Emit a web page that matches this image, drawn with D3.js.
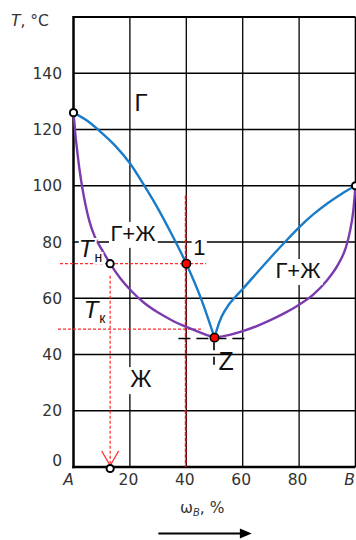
<!DOCTYPE html>
<html>
<head>
<meta charset="utf-8">
<script src="https://cdn.jsdelivr.net/npm/d3@7"></script>
<style>
  html, body { margin: 0; padding: 0; background: #fff; }
  svg { display: block; }
</style>
</head>
<body>
<svg id="chart" width="356" height="540"></svg>
<script>
// Phase diagram of a binary A–B system with a minimum-boiling azeotrope (Z)

// Axis ticks
const tempTicks = [0, 20, 40, 60, 80, 100, 120, 140];
const tempMax = 160;
const compTicks = [0, 20, 40, 60, 80, 100];
const compLabels = ["A", "20", "40", "60", "80", "B"];

// Dew (vapour) curve, [ω_B %, T °C]
const vaporLeft  = [[0, 126], [5, 123], [10, 118.8], [15, 114], [20, 108], [25, 100.2], [30, 91.8], [35, 82.4], [40, 72.3], [45, 60.5], [50, 46]];
const vaporRight = [[50, 46], [51, 49.4], [52.5, 53.4], [55, 57.6], [57.5, 60.6], [60, 63.3], [65, 69], [70, 74.6], [75, 80], [80, 85.2], [85, 89.8], [90, 93.7], [95, 97.1], [100, 100]];

// Boiling (liquid) curve, [ω_B %, T °C]
const liquidLeft  = [[0, 126], [0.6, 119], [1.3, 112.5], [2.1, 106], [3, 100], [4.2, 93.5], [5.6, 87.5], [7.5, 82], [10, 77.4], [13, 72.3],
                     [16.5, 67.2], [20.6, 62.5], [25, 58.4], [30, 54.9], [35, 52.1], [40, 49.8], [45, 47.8], [50, 46]];
const liquidRight = [[50, 46], [55, 46.9], [60, 48.3], [65, 50.1], [70, 52.3], [75, 54.8], [80, 57.7], [85, 61.3], [90, 66.5],
                     [94, 72.3], [96.5, 77.8], [98, 83.6], [99.2, 91], [100, 100]];

// Boiling points of the pure components
const pureComponents = [[0, 126], [100, 100]];
// Mixture of composition 1: start of boiling (Tн) and end of boiling (Tк)
const point1 = [40, 72.3];
const pointN = [13, 72.3];
const tempK = 49;
const pointZ = [50, 46];

// Region and point captions, anchored in data units
const captions = [
  { text: "Г",   at: [23.9, 126.6], size: 24, box: false },
  { text: "Г+Ж", at: [21.1, 80.4],  size: 22, box: true },
  { text: "1",   at: [44.6, 75.4],  size: 22, box: true },
  { text: "Г+Ж", at: [79.6, 67.2],  size: 22, box: true },
  { text: "Ж",   at: [23.9, 28.4],  size: 23, box: true },
  { text: "Z",   at: [54.1, 34.5],  size: 25, box: false }
];
const tempCaptions = [
  { sub: "н", at: [1.9, 74.8] },
  { sub: "к", at: [3.6, 52.9] }
];

const FONT = "'DejaVu Sans', sans-serif";
const LABEL_FONT = "'Liberation Sans', Arial, sans-serif";

const svg = d3.select("#chart");
const x = d3.scaleLinear().domain([0, 100]).range([73.5, 355.5]);
const y = d3.scaleLinear().domain([0, tempMax]).range([467, 17]);

// Grid
const grid = svg.append("g").attr("stroke", "#000").attr("stroke-width", 1.3);
grid.selectAll("line.h").data(tempTicks.slice(1)).join("line")
  .attr("class", "h")
  .attr("x1", x(0)).attr("x2", x(100))
  .attr("y1", d => y(d)).attr("y2", d => y(d));
grid.selectAll("line.v").data(compTicks.slice(1, -1)).join("line")
  .attr("class", "v")
  .attr("x1", d => x(d)).attr("x2", d => x(d))
  .attr("y1", y(0)).attr("y2", y(tempMax));

// Frame
svg.append("line").attr("x1", x(0)).attr("x2", x(100)).attr("y1", y(tempMax)).attr("y2", y(tempMax))
  .attr("stroke", "#000").attr("stroke-width", 2);
svg.append("line").attr("x1", x(100)).attr("x2", x(100)).attr("y1", y(0)).attr("y2", y(tempMax))
  .attr("stroke", "#000").attr("stroke-width", 1.6);
svg.append("line").attr("x1", x(0)).attr("x2", x(0)).attr("y1", y(0) + 1.2).attr("y2", y(tempMax) - 1)
  .attr("stroke", "#000").attr("stroke-width", 2.5);
svg.append("line").attr("x1", x(0) - 1.2).attr("x2", x(100)).attr("y1", y(0)).attr("y2", y(0))
  .attr("stroke", "#000").attr("stroke-width", 2.5);

// Y tick labels
svg.append("g").selectAll("text").data(tempTicks).join("text")
  .attr("x", 62)
  .attr("y", d => y(d) + (d === 0 ? -1 : 5.5))
  .attr("text-anchor", "end")
  .attr("font-family", FONT).attr("font-size", 15.5).attr("fill", "#333")
  .text(d => d);

// X tick labels (end labels name the pure components)
const last = compTicks.length - 1;
svg.append("g").selectAll("text").data(compTicks).join("text")
  .attr("x", (d, i) => i === last ? 355 : x(d) + (i === 0 ? -5 : -1.5))
  .attr("y", y(0) + 18)
  .attr("text-anchor", (d, i) => i === last ? "end" : "middle")
  .attr("font-family", FONT).attr("font-size", 15.5).attr("fill", "#333")
  .attr("font-style", (d, i) => (i === 0 || i === last) ? "italic" : "normal")
  .text((d, i) => compLabels[i]);

// Axis titles
const tTitle = svg.append("text").attr("x", 11).attr("y", 26)
  .attr("font-family", FONT).attr("font-size", 15.5).attr("fill", "#333");
tTitle.append("tspan").attr("font-style", "italic").text("T");
tTitle.append("tspan").text(", °C");

const wTitle = svg.append("text").attr("x", 180).attr("y", 513)
  .attr("font-family", FONT).attr("font-size", 15.5).attr("fill", "#333");
wTitle.append("tspan").text("ω");
wTitle.append("tspan").attr("font-style", "italic").attr("font-size", 10).attr("dy", 3).text("B");
wTitle.append("tspan").attr("dy", -3).text(", %");

// Direction arrow under the composition axis
svg.append("line")
  .attr("x1", x(30.1)).attr("x2", x(59.5))
  .attr("y1", 533.5).attr("y2", 533.5)
  .attr("stroke", "#000").attr("stroke-width", 2);
svg.append("path")
  .attr("d", d3.line()([[x(59), 528.5], [x(63.2), 533.5], [x(59), 538.5]]) + "Z")
  .attr("fill", "#000");

// Guide lines for mixture 1
const guides = svg.append("g").attr("fill", "none");
guides.append("line")
  .attr("x1", 60).attr("x2", x(47))
  .attr("y1", y(pointN[1])).attr("y2", y(pointN[1]))
  .attr("stroke", "#ff2a2a").attr("stroke-width", 1.2).attr("stroke-dasharray", "3,2");
guides.append("line")
  .attr("x1", 58).attr("x2", x(46))
  .attr("y1", y(tempK)).attr("y2", y(tempK))
  .attr("stroke", "#ff2a2a").attr("stroke-width", 1.2).attr("stroke-dasharray", "3,2");
guides.append("line")
  .attr("x1", x(pointN[0])).attr("x2", x(pointN[0]))
  .attr("y1", y(pointN[1]) + 12).attr("y2", y(0) - 2)
  .attr("stroke", "#ff2a2a").attr("stroke-width", 1.2).attr("stroke-dasharray", "3,2");
guides.append("path")
  .attr("d", d3.line()([[x(pointN[0]) - 8.5, y(0) - 16], [x(pointN[0]), y(0) - 1.5], [x(pointN[0]) + 8.5, y(0) - 16]]))
  .attr("stroke", "#ff2a2a").attr("stroke-width", 1.3);
guides.append("line")
  .attr("x1", x(point1[0]) - 0.6).attr("x2", x(point1[0]) - 0.6)
  .attr("y1", y(96.5)).attr("y2", y(0))
  .attr("stroke", "#e8141c").attr("stroke-width", 1.8).attr("stroke-dasharray", "4,1.5");

// Azeotrope guide (black dashes)
svg.append("line")
  .attr("x1", x(37.2)).attr("x2", x(62.6))
  .attr("y1", y(pointZ[1]) + 0.8).attr("y2", y(pointZ[1]) + 0.8)
  .attr("stroke", "#000").attr("stroke-width", 1.6).attr("stroke-dasharray", "12,6");
svg.append("line")
  .attr("x1", x(pointZ[0]) - 0.5).attr("x2", x(pointZ[0]) - 0.5)
  .attr("y1", y(pointZ[1]) + 4.5).attr("y2", y(pointZ[1]) + 29)
  .attr("stroke", "#000").attr("stroke-width", 1.6).attr("stroke-dasharray", "8,6.5");

// Curves
const curve = d3.line()
  .x(d => x(d[0])).y(d => y(d[1]))
  .curve(d3.curveMonotoneX);
[[vaporLeft, "#1a7cc8"], [vaporRight, "#1a7cc8"], [liquidLeft, "#7b3aae"], [liquidRight, "#7b3aae"]]
  .forEach(([pts, color]) => {
    svg.append("path").attr("d", curve(pts))
      .attr("fill", "none").attr("stroke", color).attr("stroke-width", 2.4)
      .attr("stroke-linecap", "round");
  });

// Captions with white backing
captions.forEach(c => {
  const g = svg.append("g");
  const t = g.append("text")
    .attr("x", x(c.at[0])).attr("y", y(c.at[1]))
    .attr("text-anchor", "middle")
    .attr("font-family", LABEL_FONT).attr("font-size", c.size).attr("fill", "#111")
    .text(c.text);
  if (c.box) {
    const b = t.node().getBBox();
    g.insert("rect", "text")
      .attr("x", b.x - 1.5).attr("y", b.y + 1).attr("width", b.width + 3).attr("height", b.height + 1)
      .attr("fill", "#fff");
  }
});

tempCaptions.forEach(c => {
  const t = svg.append("text")
    .attr("x", x(c.at[0])).attr("y", y(c.at[1]))
    .attr("font-family", LABEL_FONT).attr("font-size", 24).attr("fill", "#111")
    .attr("stroke", "#fff").attr("stroke-width", 4).attr("paint-order", "stroke");
  t.append("tspan").attr("font-style", "italic").text("T");
  t.append("tspan").attr("font-size", 14).attr("dy", 5).attr("dx", 1).text(c.sub);
});

// Markers
svg.append("g").selectAll("circle").data(pureComponents.concat([pointN, [pointN[0], 0]])).join("circle")
  .attr("cx", d => x(d[0])).attr("cy", (d) => y(d[1]) + (d[1] === 0 ? 1.5 : 0))
  .attr("r", 3.6)
  .attr("fill", "#fff").attr("stroke", "#000").attr("stroke-width", 2);
svg.append("g").selectAll("circle").data([point1, pointZ]).join("circle")
  .attr("cx", d => x(d[0])).attr("cy", d => y(d[1]))
  .attr("r", 4.2)
  .attr("fill", "#f00").attr("stroke", "#000").attr("stroke-width", 1.6);
</script>
</body>
</html>
